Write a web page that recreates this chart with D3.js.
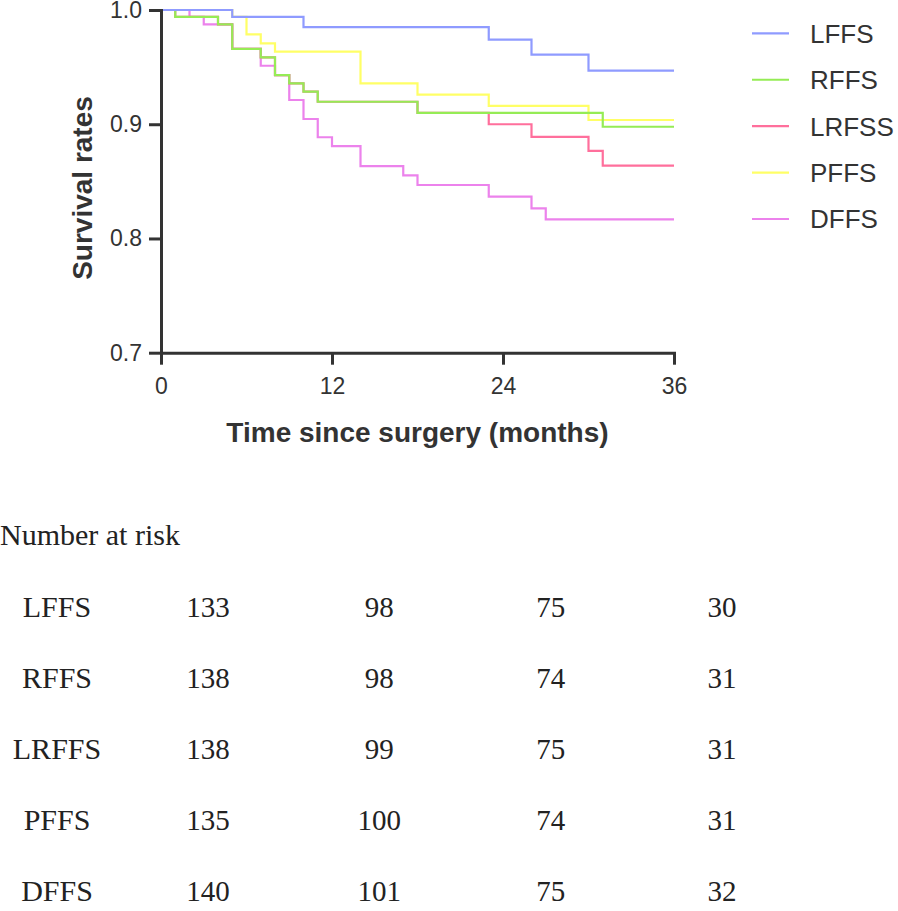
<!DOCTYPE html>
<html>
<head>
<meta charset="utf-8">
<script src="https://cdn.jsdelivr.net/npm/d3@7"></script>
<style>
  html, body { margin: 0; padding: 0; background: #fff; }
  svg { display: block; }
</style>
</head>
<body>
<svg id="chart" width="898" height="911"></svg>
<script>
// ---- data ----
const seriesNames = ["LFFS", "RFFS", "LRFSS", "PFFS", "DFFS"];
const seriesColors = ["#8f9bff", "#95ec55", "#ff6f9c", "#ffff66", "#ec82ec"];

const lffsTimes = [0, 5, 10, 23, 26, 30, 36];
const lffsSurv  = [1.0, 0.994, 0.985, 0.974, 0.961, 0.947, 0.947];

const rffsTimes = [0, 1, 4, 5, 7, 8, 9, 10, 11, 18, 31, 36];
const rffsSurv  = [1.0, 0.994, 0.9875, 0.966, 0.9585, 0.943, 0.9357, 0.9285, 0.9197, 0.910, 0.8978, 0.8978];

const lrfssTimes = [0, 1, 4, 5, 7, 8, 9, 10, 11, 18, 23, 26, 30, 31, 36];
const lrfssSurv  = [1.0, 0.994, 0.9875, 0.966, 0.9585, 0.943, 0.9357, 0.9285, 0.9197, 0.910, 0.900, 0.889, 0.8766, 0.8637, 0.8637];

const pffsTimes = [0, 5, 6, 7, 8, 14, 18, 23, 30, 36];
const pffsSurv  = [1.0, 0.994, 0.9787, 0.9708, 0.9635, 0.9358, 0.9259, 0.916, 0.9037, 0.9037];

const dffsTimes = [0, 2, 3, 5, 7, 8, 9, 10, 11, 12, 14, 17, 18, 23, 26, 27, 36];
const dffsSurv  = [1.0, 0.994, 0.9875, 0.966, 0.9512, 0.943, 0.9212, 0.9046, 0.8886, 0.8809, 0.8634, 0.8553, 0.8468, 0.8366, 0.8264, 0.8168, 0.8168];

const xTicks = [0, 12, 24, 36];
const yTicks = [0.7, 0.8, 0.9, 1.0];

const riskTitle = "Number at risk";
const riskRows = ["LFFS", "RFFS", "LRFFS", "PFFS", "DFFS"];
const riskLFFS  = [133, 98, 75, 30];
const riskRFFS  = [138, 98, 74, 31];
const riskLRFFS = [138, 99, 75, 31];
const riskPFFS  = [135, 100, 74, 31];
const riskDFFS  = [140, 101, 75, 32];

// ---- build ----
const series = [
  {name: seriesNames[0], color: seriesColors[0], t: lffsTimes,  s: lffsSurv},
  {name: seriesNames[1], color: seriesColors[1], t: rffsTimes,  s: rffsSurv},
  {name: seriesNames[2], color: seriesColors[2], t: lrfssTimes, s: lrfssSurv},
  {name: seriesNames[3], color: seriesColors[3], t: pffsTimes,  s: pffsSurv},
  {name: seriesNames[4], color: seriesColors[4], t: dffsTimes,  s: dffsSurv}
];
const riskData = [riskLFFS, riskRFFS, riskLRFFS, riskPFFS, riskDFFS];

const svg = d3.select("#chart");
const x = d3.scaleLinear().domain([0, 36]).range([161, 674]);
const y = d3.scaleLinear().domain([0.7, 1.0]).range([352.7, 10]);

const axisColor = "#333";

// lines (drawn in reverse so LFFS is on top)
const line = d3.line().x(d => x(d[0])).y(d => y(d[1])).curve(d3.curveStepAfter);
const gLines = svg.append("g");
series.slice().reverse().forEach(sr => {
  const pts = sr.t.map((t, i) => [t, sr.s[i]]);
  gLines.append("path")
    .datum(pts)
    .attr("d", line)
    .attr("fill", "none")
    .attr("stroke", sr.color)
    .attr("stroke-width", 2.2);
});

// axes
const yAxis = d3.axisLeft(y).tickValues(yTicks).tickFormat(d3.format(".1f"))
  .tickSize(12).tickSizeOuter(0).tickPadding(7);
const xAxis = d3.axisBottom(x).tickValues(xTicks).tickFormat(d3.format("d"))
  .tickSize(12).tickSizeOuter(0).tickPadding(13);

const gy = svg.append("g").attr("transform", `translate(${x(0)},0)`).call(yAxis);
const gx = svg.append("g").attr("transform", `translate(0,${y(0.7)})`).call(xAxis);
[gx, gy].forEach(g => {
  g.select(".domain").attr("stroke", axisColor).attr("stroke-width", 3).attr("stroke-linecap", "square");
  g.selectAll(".tick line").attr("stroke", axisColor).attr("stroke-width", 3);
  g.selectAll(".tick text")
    .attr("fill", "#333")
    .style("font-family", "'Liberation Sans', Arial, sans-serif")
    .style("font-size", "23px");
});

// axis titles
svg.append("text")
  .attr("x", (x(0) + x(36)) / 2)
  .attr("y", 441.5)
  .attr("text-anchor", "middle")
  .attr("fill", "#333")
  .style("font-family", "'Liberation Sans', Arial, sans-serif")
  .style("font-size", "28px")
  .style("font-weight", "bold")
  .text("Time since surgery (months)");

svg.append("text")
  .attr("transform", "translate(92,188) rotate(-90)")
  .attr("text-anchor", "middle")
  .attr("fill", "#333")
  .style("font-family", "'Liberation Sans', Arial, sans-serif")
  .style("font-size", "28px")
  .style("font-weight", "bold")
  .text("Survival rates");

// legend
const legendY = d3.scaleLinear().domain([0, 4]).range([33.3, 219]);
const gLeg = svg.append("g");
series.forEach((sr, i) => {
  gLeg.append("line")
    .attr("x1", 752).attr("x2", 789)
    .attr("y1", legendY(i)).attr("y2", legendY(i))
    .attr("stroke", sr.color).attr("stroke-width", 2.2);
  gLeg.append("text")
    .attr("x", 810).attr("y", legendY(i))
    .attr("dy", "0.36em")
    .attr("fill", "#333")
    .style("font-family", "'Liberation Sans', Arial, sans-serif")
    .style("font-size", "26px")
    .text(sr.name);
});

// number at risk table
const serif = "'Liberation Serif', 'Times New Roman', serif";
svg.append("text")
  .attr("x", 0).attr("y", 545)
  .attr("fill", "#222")
  .style("font-family", serif)
  .style("font-size", "30px")
  .text(riskTitle);

const rowY = d3.scaleLinear().domain([0, 4]).range([617, 901]);
const colX = d3.scaleLinear().domain([0, 3]).range([208, 722]);
const gTab = svg.append("g");
riskRows.forEach((r, i) => {
  gTab.append("text")
    .attr("x", 57).attr("y", rowY(i))
    .attr("text-anchor", "middle")
    .attr("fill", "#222")
    .style("font-family", serif)
    .style("font-size", "30px")
    .text(r);
  riskData[i].forEach((v, j) => {
    gTab.append("text")
      .attr("x", colX(j)).attr("y", rowY(i))
      .attr("text-anchor", "middle")
      .attr("fill", "#222")
      .style("font-family", serif)
      .style("font-size", "29px")
      .text(v);
  });
});
</script>
</body>
</html>
